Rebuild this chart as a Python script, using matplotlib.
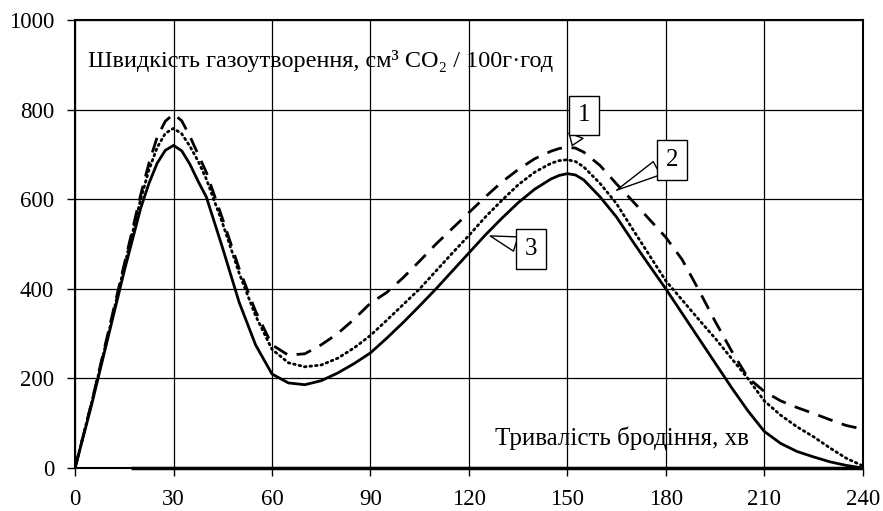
import numpy as np
import matplotlib.pyplot as plt

# time, min
t = [0, 5, 10, 15, 20, 22.5, 25, 27.5, 30, 32.5, 35, 37.5, 40, 45, 50, 55, 60,
     65, 70, 75, 80, 85, 90, 95, 100, 105, 110, 115, 120, 125, 130, 135, 140,
     145, 147.5, 150, 152.5, 155, 160, 165, 170, 175, 180, 185, 190, 195, 200,
     205, 210, 215, 220, 225, 230, 235, 240]

# curve 1 (dashed)
c1 = [0, 145, 300, 455, 610, 680, 738, 774, 790, 775, 740, 700, 660, 555, 445,
      350, 275, 252, 255, 275, 300, 332, 368, 392, 425, 462, 500, 535, 570, 605,
      638, 666, 690, 707, 713, 716, 714, 705, 675, 634, 595, 555, 515, 465, 398,
      328, 262, 202, 171, 150, 135, 122, 108, 95, 87]
# curve 2 (dotted)
c2 = [0, 145, 295, 450, 600, 665, 715, 747, 758, 746, 718, 685, 645, 545, 435,
      340, 265, 235, 226, 230, 245, 268, 296, 330, 365, 400, 440, 480, 519, 560,
      597, 632, 660, 680, 686, 688, 684, 672, 635, 590, 532, 475, 418, 375, 332,
      290, 245, 200, 150, 118, 92, 70, 45, 22, 5]
# curve 3 (solid)
c3 = [0, 140, 290, 440, 580, 635, 680, 709, 720, 708, 678, 640, 605, 490, 370,
      275, 210, 190, 186, 195, 212, 233, 257, 290, 325, 362, 400, 440, 480, 520,
      557, 592, 622, 645, 653, 657, 654, 643, 605, 560, 505, 452, 400, 345, 290,
      235, 180, 128, 82, 55, 37, 25, 14, 6, 0]

xticks = [0, 30, 60, 90, 120, 150, 180, 210, 240]
yticks = [0, 200, 400, 600, 800, 1000]

plt.rcParams['font.family'] = ['Liberation Serif', 'DejaVu Serif']

fig = plt.figure(figsize=(8.83, 5.11), dpi=100)
ax = fig.add_axes([0.085, 0.084, 0.892, 0.877])

ax.plot(t, c1, color='black', lw=2.0, ls=(0, (5.5, 3.5)))
ax.plot(t, c2, color='black', lw=2.0, ls=(0, (0.6, 1.4)), dash_capstyle='round')
ax.plot(t, c3, color='black', lw=2.0)
# thick base line along the x axis
ax.plot([17, 240], [0, 0], color='black', lw=2.5, solid_capstyle='butt',
        clip_on=False)

ax.set_xlim(0, 240)
ax.set_ylim(0, 1000)
ax.set_xticks(xticks)
ax.set_yticks(yticks)
ax.grid(True, color='black', lw=0.9)
ax.set_axisbelow(True)
for s in ax.spines.values():
    s.set_linewidth(1.5)
ax.tick_params(direction='out', length=6, width=1, labelsize=16.5)
ax.tick_params(axis='y', pad=9)
ax.tick_params(axis='x', pad=9)

ax.text(4, 908, 'Швидкість газоутворення, см³ CO₂ / 100г·год',
        fontsize=17.5, va='center', ha='left')
ax.text(128, 67, 'Тривалість бродіння, хв', fontsize=18, va='center', ha='left')

box = dict(boxstyle='square,pad=0.35', fc='white', ec='black', lw=1)
arr = dict(arrowstyle='wedge,tail_width=0.6,shrink_factor=0.5', fc='white',
           ec='black', lw=1, shrinkA=0, shrinkB=0)
ax.annotate('1', xy=(151.5, 720), xytext=(155, 787), fontsize=18,
            ha='center', va='center', bbox=box, arrowprops=arr)
ax.annotate('2', xy=(165, 620), xytext=(182, 688), fontsize=18,
            ha='center', va='center', bbox=box, arrowprops=arr)
ax.annotate('3', xy=(126.5, 518), xytext=(139, 489), fontsize=18,
            ha='center', va='center', bbox=box, arrowprops=arr)

fig.savefig('out.png', dpi=100)
